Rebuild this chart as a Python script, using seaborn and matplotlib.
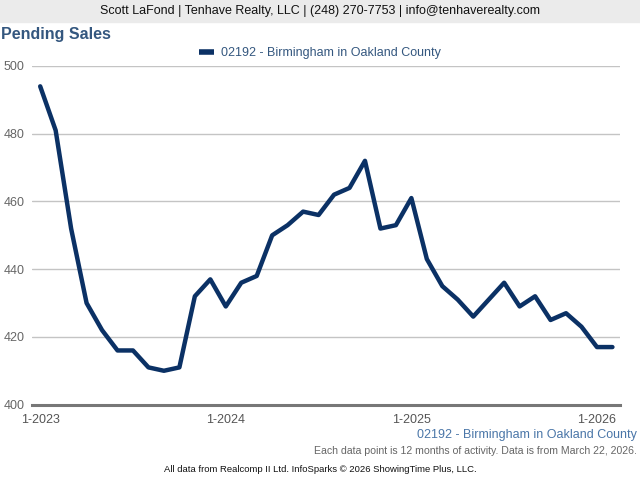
import matplotlib
matplotlib.use("Agg")
import matplotlib.pyplot as plt
import seaborn as sns
import pandas as pd
from matplotlib.lines import Line2D

months = [f"{m}-{y}" for y in (2023, 2024, 2025, 2026) for m in range(1, 13)][:38]
values = [494, 481, 452, 430, 422, 416, 416, 411, 410, 411, 432, 437,
          429, 436, 438, 450, 453, 457, 456, 462, 464, 472, 452, 453,
          461, 443, 435, 431, 426, 431, 436, 429, 432, 425, 427, 423,
          417, 417]
series_name = "02192 - Birmingham in Oakland County"
tick_labels = ["1-2023", "1-2024", "1-2025", "1-2026"]
y_ticks = [400, 420, 440, 460, 480, 500]

df = pd.DataFrame({"idx": range(len(months)), "month": months, "value": values,
                   "series": series_name})

sns.set_style("white")
plt.rcParams['font.family'] = ['Liberation Sans', 'DejaVu Sans']

fig = plt.figure(figsize=(6.4, 4.8), dpi=100)
ax = fig.add_axes([0.0495, 0.157, 0.9195, 0.7055])

line_color = "#0b3165"
sns.lineplot(data=df, x="idx", y="value", hue="series", palette=[line_color],
             linewidth=3.2, ax=ax, legend=False)

ax.set_xlim(-0.55, 37.5)
ax.set_ylim(400, 500)
ax.set_yticks(y_ticks)
ax.set_yticklabels([str(v) for v in y_ticks], color="#666666", fontsize=9)
ax.set_xticks([months.index(t) for t in tick_labels])
ax.set_xticklabels(tick_labels, color="#555555", fontsize=9)
ax.tick_params(axis="y", length=0, pad=5)
ax.tick_params(axis="x", length=5, width=1.5, color="#777777", pad=2, direction="out")
ax.grid(axis="y", color="#c4c4c4", linewidth=1)
ax.grid(axis="x", visible=False)
for s in ["top", "right", "left"]:
    ax.spines[s].set_visible(False)
ax.spines["bottom"].set_color("#777777")
ax.spines["bottom"].set_linewidth(2.2)
ax.set_xlabel("")
ax.set_ylabel("")

# Banner
fig.patches.append(plt.Rectangle((0, 1 - 22 / 480), 1, 22 / 480, transform=fig.transFigure,
                                 color="#ebebeb", zorder=0))
fig.text(0.5, 1 - 11 / 480, "Scott LaFond | Tenhave Realty, LLC | (248) 270-7753 | info@tenhaverealty.com",
         ha="center", va="center", fontsize=9, color="#111111")
fig.text(0.002, 1 - 35 / 480, "Pending Sales", ha="left", va="center", fontsize=11.5,
         fontweight="bold", color="#34577f")

# Legend
handle = Line2D([0], [0], color=line_color, linewidth=4, solid_capstyle="butt")
fig.legend([handle], [series_name], loc="center", bbox_to_anchor=(0.5, 1 - 53 / 480),
           frameon=False, fontsize=9, handlelength=1.2, handletextpad=0.5,
           labelcolor="#34577f")

fig.text(0.995, 1 - 435 / 480, series_name, ha="right", va="center", fontsize=9,
         color="#4a76a8")
fig.text(0.995, 1 - 451 / 480, "Each data point is 12 months of activity. Data is from March 22, 2026.",
         ha="right", va="center", fontsize=7.6, color="#666666")
fig.text(0.5, 1 - 469 / 480, "All data from Realcomp II Ltd. InfoSparks © 2026 ShowingTime Plus, LLC.",
         ha="center", va="center", fontsize=6.8, color="#111111")

fig.savefig("out.png", dpi=100)
